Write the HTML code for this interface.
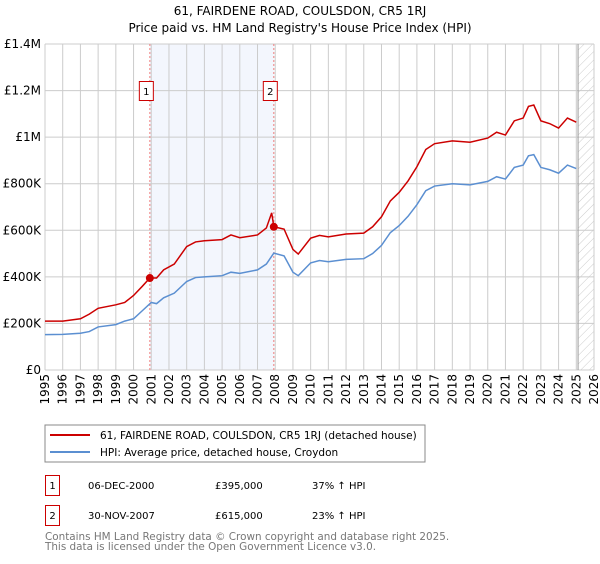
<!DOCTYPE html>
<html><head><meta charset="utf-8"><style>
body{margin:0;background:#fff;font-family:"DejaVu Sans","Liberation Sans",sans-serif;}
svg text{font-family:"DejaVu Sans","Liberation Sans",sans-serif;}
</style></head><body>
<svg id="c" width="600" height="560" viewBox="0 0 600 560" xmlns="http://www.w3.org/2000/svg">
<defs><pattern id="hatch" width="6" height="6" patternUnits="userSpaceOnUse" patternTransform="rotate(45)"><line x1="0" y1="0" x2="0" y2="6" stroke="#ccc" stroke-width="1"/></pattern></defs>
<text x="300" y="15" text-anchor="middle" font-size="12">61, FAIRDENE ROAD, COULSDON, CR5 1RJ</text>
<text x="300" y="32" text-anchor="middle" font-size="12">Price paid vs. HM Land Registry's House Price Index (HPI)</text>
<g id="plot"></g>
<rect x="45" y="425" width="380" height="37" fill="#fff" stroke="#888"/>
<line x1="50" y1="435" x2="90" y2="435" stroke="#cc0000" stroke-width="2"/>
<text x="100" y="439" font-size="10.5">61, FAIRDENE ROAD, COULSDON, CR5 1RJ (detached house)</text>
<line x1="50" y1="452" x2="90" y2="452" stroke="#5b8fd1" stroke-width="2"/>
<text x="100" y="456" font-size="10.5">HPI: Average price, detached house, Croydon</text>
<g>
<rect x="45.5" y="475.5" width="14" height="20" fill="#fff" stroke="#cc0000"/>
<text x="52.5" y="489" text-anchor="middle" font-size="10">1</text>
<text x="88" y="489" font-size="10">06-DEC-2000</text>
<text x="215" y="489" font-size="10">£395,000</text>
<text x="312" y="489" font-size="10">37% ↑ HPI</text></g>
<g>
<rect x="45.5" y="505.5" width="14" height="20" fill="#fff" stroke="#cc0000"/>
<text x="52.5" y="519" text-anchor="middle" font-size="10">2</text>
<text x="88" y="519" font-size="10">30-NOV-2007</text>
<text x="215" y="519" font-size="10">£615,000</text>
<text x="312" y="519" font-size="10">23% ↑ HPI</text></g>
<text x="45" y="540" font-size="10.4" fill="#777">Contains HM Land Registry data © Crown copyright and database right 2025.</text>
<text x="45" y="550" font-size="10.4" fill="#777">This data is licensed under the Open Government Licence v3.0.</text>
</svg>
<script>
const hpiYears=[1995,1996,1997,1997.5,1998,1999,1999.5,2000,2000.5,2001,2001.3,2001.7,2002.3,2003,2003.5,2004,2005,2005.5,2006,2007,2007.5,2007.92,2008.5,2009,2009.3,2010,2010.5,2011,2012,2013,2013.5,2014,2014.5,2015,2015.5,2016,2016.5,2017,2018,2019,2020,2020.5,2021,2021.5,2022,2022.3,2022.6,2023,2023.5,2024,2024.5,2025];
const hpiValues=[152,153,158,165,185,195,210,220,255,290,285,310,330,380,397,400,405,420,415,430,455,502,490,420,405,460,470,465,475,478,500,535,590,620,660,710,770,790,800,795,810,830,820,870,880,920,925,870,860,845,880,865];
const priceYears=[1995,1996,1997,1997.5,1998,1999,1999.5,2000,2000.5,2000.92,2001.3,2001.7,2002.3,2003,2003.5,2004,2005,2005.5,2006,2007,2007.5,2007.8,2007.92,2008.5,2009,2009.3,2010,2010.5,2011,2012,2013,2013.5,2014,2014.5,2015,2015.5,2016,2016.5,2017,2018,2019,2020,2020.5,2021,2021.5,2022,2022.3,2022.6,2023,2023.5,2024,2024.5,2025];
const priceValues=[210,210,220,240,265,280,290,320,360,395,395,430,455,530,550,555,560,580,568,580,610,675,615,605,518,498,566,578,572,584,588,615,658,726,763,812,873,947,972,984,978,996,1021,1009,1070,1082,1132,1138,1070,1058,1039,1082,1064];
const saleYears=[2000.92,2007.92];
const saleValues=[395,615];
const saleLabels=["1","2"];
const yTicks=[0,200,400,600,800,1000,1200,1400];
const yTickLabels=["£0","£200K","£400K","£600K","£800K","£1M","£1.2M","£1.4M"];
const xTicks=[1995,1996,1997,1998,1999,2000,2001,2002,2003,2004,2005,2006,2007,2008,2009,2010,2011,2012,2013,2014,2015,2016,2017,2018,2019,2020,2021,2022,2023,2024,2025,2026];

const X0=45,X1=594,Y0=370,Y1=44;
const xs=v=>X0+(v-1995)/(2026-1995)*(X1-X0);
const ys=v=>Y0-v/1400*(Y0-Y1);
const NS="http://www.w3.org/2000/svg";
const g=document.getElementById('plot');
function mk(t,a){const e=document.createElementNS(NS,t);for(const k in a)e.setAttribute(k,a[k]);g.appendChild(e);return e;}
let e;
e=mk('rect',{x:xs(saleYears[0]),y:Y1,width:xs(saleYears[1])-xs(saleYears[0]),height:Y0-Y1,fill:'#f3f6fd'});


e=mk('rect',{x:xs(2025.1),y:Y1,width:X1-xs(2025.1),height:Y0-Y1,fill:'url(#hatch)'});


yTicks.forEach((t,i)=>{
 e=mk('line',{x1:X0,x2:X1,y1:ys(t),y2:ys(t),stroke:'#ccc'});
 
 
 e=mk('text',{x:X0-4,y:ys(t)+4,'text-anchor':'end','font-size':12});
 e.textContent=yTickLabels[i];
 
 
});
xTicks.forEach(t=>{
 e=mk('line',{x1:xs(t),x2:xs(t),y1:Y1,y2:Y0,stroke:'#ccc'});
 
 
 e=mk('text',{x:0,y:0,'text-anchor':'end','font-size':12,transform:`translate(${xs(t)+4},374) rotate(-90)`});
 e.textContent=t;
 
 
});
e=mk('line',{x1:xs(2025.1),x2:xs(2025.1),y1:Y1,y2:Y0,stroke:'#999'});


saleYears.forEach((s,i)=>{
 e=mk('line',{x1:xs(s),x2:xs(s),y1:Y1,y2:Y0,stroke:'#f08080','stroke-dasharray':'2,2'});
 
 
});
e=mk('polyline',{points:hpiYears.map((y,i)=>xs(y)+','+ys(hpiValues[i])).join(' '),fill:'none',stroke:'#5b8fd1','stroke-width':1.5});


e=mk('polyline',{points:priceYears.map((y,i)=>xs(y)+','+ys(priceValues[i])).join(' '),fill:'none',stroke:'#cc0000','stroke-width':1.5});


saleYears.forEach((s,i)=>{
 e=mk('circle',{cx:xs(s),cy:ys(saleValues[i]),r:4,fill:'#cc0000'});
 
 
 e=mk('rect',{x:xs(s)-10.5,y:81.5,width:14,height:19,fill:'#fff',stroke:'#cc0000'});
 
 
 e=mk('text',{x:xs(s)-3.5,y:95,'text-anchor':'middle','font-size':10});
 e.textContent=saleLabels[i];
 
 
});
</script>
</body></html>
